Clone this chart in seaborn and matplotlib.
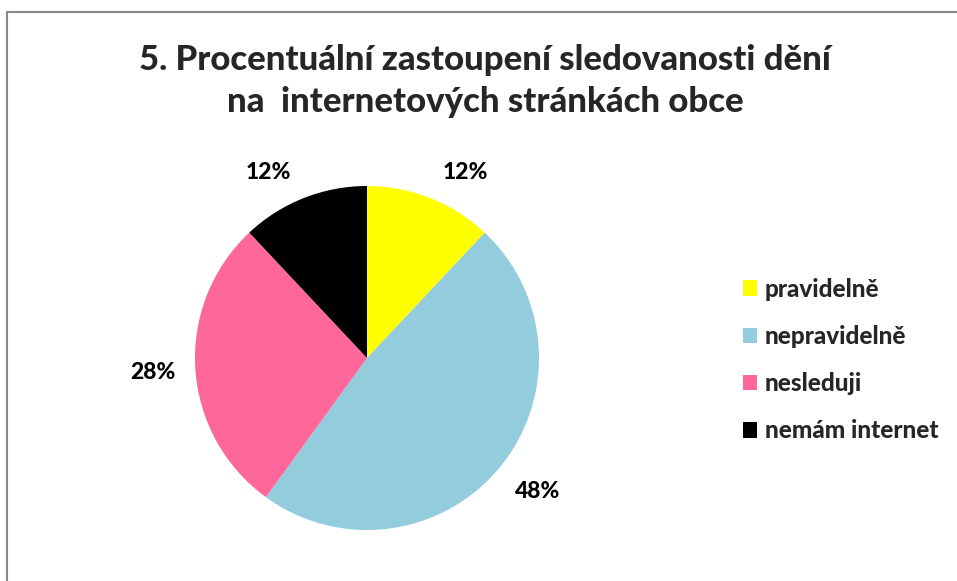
import matplotlib
matplotlib.use("Agg")
import matplotlib.pyplot as plt
from matplotlib.lines import Line2D
from matplotlib.patches import Patch
import numpy as np
import seaborn as sns

categories = ["pravidelně", "nepravidelně", "nesleduji", "nemám internet"]
values = [12, 48, 28, 12]
colors = ["#FFFF00", "#93CDDD", "#FF6699", "#000000"]
title = "5. Procentuální zastoupení sledovanosti dění\nna  internetových stránkách obce"

# label placement (layout only): angle in degrees, distance in radii
label_angles = [62, -38, 184, 118]
label_dist = [1.22, 1.26, 1.25, 1.22]

sns.set_theme(style="white")
plt.rcParams['font.family'] = ['Lato', 'DejaVu Sans']

fig = plt.figure(figsize=(9.57, 5.81), dpi=100)
fig.patch.set_facecolor("white")

W, H = 957, 581
cx, cy, r = 367, 358, 172
ax = fig.add_axes([(cx - r) / W, (H - cy - r) / H, 2 * r / W, 2 * r / H])
wedges, texts, autotexts = ax.pie(
    values, colors=colors, startangle=90, counterclock=False,
    autopct=lambda p: f"{p:.0f}%", pctdistance=1.24, radius=1,
    wedgeprops=dict(linewidth=0),
    textprops=dict(fontsize=16.5, fontweight=900, color="black"),
)
for t, a, d in zip(autotexts, label_angles, label_dist):
    t.set_position((d * np.cos(np.radians(a)), d * np.sin(np.radians(a))))
ax.set_xlim(-1, 1)
ax.set_ylim(-1, 1)
ax.set_aspect("equal")
ax.axis("off")

fig.text(0.507, 1 - 81 / H, title, ha="center", va="center",
         fontsize=25, fontweight=900, linespacing=1.4)

handles = [Patch(facecolor=c, edgecolor="none") for c in colors]
fig.legend(handles, categories, loc="center left",
           bbox_to_anchor=(721 / W, 1 - 360 / H), frameon=False,
           prop=dict(size=17.5, weight=900), handlelength=0.6,
           handleheight=0.6, handletextpad=0.3, labelspacing=1.0)

fig.add_artist(Line2D([7 / W, 7 / W], [0, 1 - 12 / H], color="#888888", lw=1.5))
fig.add_artist(Line2D([7 / W, 1], [1 - 12 / H, 1 - 12 / H], color="#888888", lw=1.5))

fig.savefig("out.png", dpi=100, facecolor="white")
